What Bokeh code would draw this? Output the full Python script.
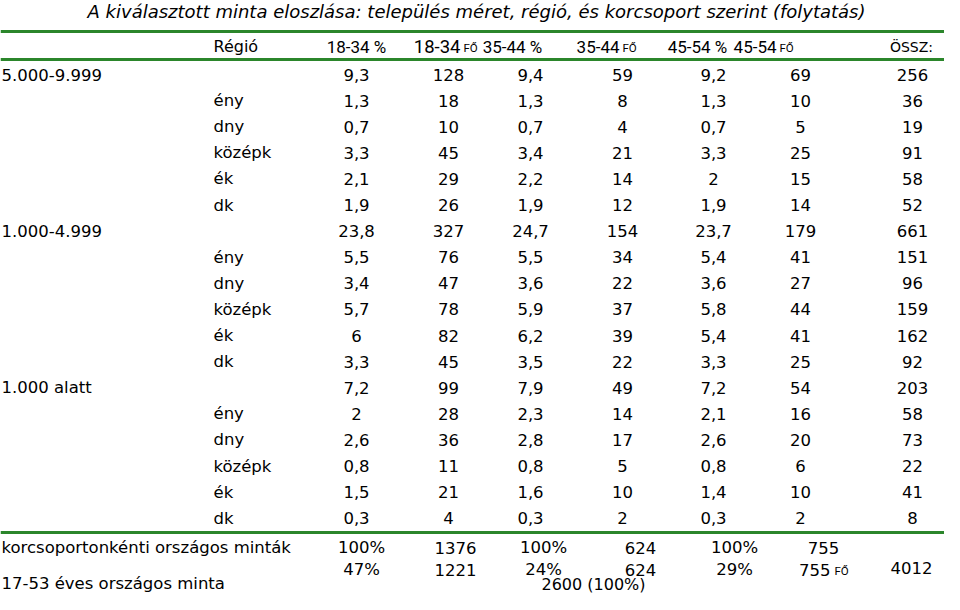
from bokeh.plotting import figure
from bokeh.models import Range1d
from bokeh.embed import file_html
from bokeh.resources import INLINE
from bokeh.core.properties import value

# ---------------- data ----------------
title = "A kiválasztott minta eloszlása: település méret, régió, és korcsoport szerint (folytatás)"
groups = ["5.000-9.999", "1.000-4.999", "1.000 alatt"]
regions = ["ény", "dny", "középk", "ék", "dk"]
region_header = "Régió"
col_headers = ["18-34 %", "18-34", "35-44 %", "35-44", "45-54 %", "45-54", "ÖSSZ:"]
fo_label = "FŐ"

pct_18_34 = [9.3, 1.3, 0.7, 3.3, 2.1, 1.9, 23.8, 5.5, 3.4, 5.7, 6, 3.3, 7.2, 2, 2.6, 0.8, 1.5, 0.3]
n_18_34 = [128, 18, 10, 45, 29, 26, 327, 76, 47, 78, 82, 45, 99, 28, 36, 11, 21, 4]
pct_35_44 = [9.4, 1.3, 0.7, 3.4, 2.2, 1.9, 24.7, 5.5, 3.6, 5.9, 6.2, 3.5, 7.9, 2.3, 2.8, 0.8, 1.6, 0.3]
n_35_44 = [59, 8, 4, 21, 14, 12, 154, 34, 22, 37, 39, 22, 49, 14, 17, 5, 10, 2]
pct_45_54 = [9.2, 1.3, 0.7, 3.3, 2, 1.9, 23.7, 5.4, 3.6, 5.8, 5.4, 3.3, 7.2, 2.1, 2.6, 0.8, 1.4, 0.3]
n_45_54 = [69, 10, 5, 25, 15, 14, 179, 41, 27, 44, 41, 25, 54, 16, 20, 6, 10, 2]
total = [256, 36, 19, 91, 58, 52, 661, 151, 96, 159, 162, 92, 203, 58, 73, 22, 41, 8]

footer1_label = "korcsoportonkénti országos minták"
footer1_pct = [100, 100, 100]
footer1_n = [1376, 624, 755]
footer2_label = "17-53 éves országos minta"
footer2_pct = [47, 24, 29]
footer2_n = [1221, 624, 755]
footer2_total = 4012
base_total_label = "2600 (100%)"

# ---------------- layout ----------------
BODY = value("DejaVu Sans")
HEAD = value("Roboto")
BODY_SIZE = "16.5px"
GREEN = "#2b862b"
col_x = [356, 448, 530, 622, 713, 800, 912]
foot_x = [361, 455, 543, 640, 734, 823, 911]
row_y0, row_dy = 74, 26.1

def fmt(v):
    return f"{v:g}".replace(".", ",")

p = figure(width=944, height=594, x_range=Range1d(0, 944), y_range=Range1d(594, 0),
           output_backend="svg", toolbar_location=None, min_border=0)
p.axis.visible = False
p.xgrid.visible = False
p.ygrid.visible = False
p.outline_line_color = None
p.background_fill_color = "white"

def txt(xs, ys, ts, font=BODY, size=BODY_SIZE, align="center", style="normal", baseline="middle"):
    p.text(x=xs, y=ys, text=ts, text_font=font, text_font_size=size, text_font_style=style,
           text_align=align, text_baseline=baseline, text_color="black")

# title
txt([476], [11], [title], size="18px", style="italic")

# rules
for yy in [31, 59, 532]:
    p.line(x=[0, 944], y=[yy, yy], line_color=GREEN, line_width=3)

# header
hy = 46
txt([213], [hy], [region_header], size="16px", align="left")
txt([356, 512, 697], [hy] * 3, [col_headers[0], col_headers[2], col_headers[4]], font=HEAD, size="17px")
fo_right = [460, 619, 776]
fo_sizes = ["18.5px", "17px", "17px"]
for t, xs, s in zip([col_headers[1], col_headers[3], col_headers[5]], fo_right, fo_sizes):
    txt([xs], [hy], [t], font=HEAD, size=s, align="right")
    txt([xs + 3], [hy + 1], [fo_label], font=HEAD, size="11.5px", align="left")
txt([911], [hy], [col_headers[6]], size="14px")

# body rows
series = [pct_18_34, n_18_34, pct_35_44, n_35_44, pct_45_54, n_45_54, total]
n_rows = len(total)
row_ys = [row_y0 + row_dy * i for i in range(n_rows)]
labels_x, labels_y, labels_t = [], [], []
for g, name in enumerate(groups):
    base = g * (len(regions) + 1)
    labels_x.append(1); labels_y.append(row_ys[base]); labels_t.append(name)
    for r, reg in enumerate(regions):
        labels_x.append(213); labels_y.append(row_ys[base + r + 1]); labels_t.append(reg)
txt(labels_x, labels_y, labels_t, align="left")
for cx, ser in zip(col_x, series):
    txt([cx] * n_rows, row_ys, [fmt(v) for v in ser])

# footer row 1
f1y = 547
txt([1], [f1y], [footer1_label], align="left")
txt([foot_x[0], foot_x[2], foot_x[4]], [f1y] * 3, [f"{v}%" for v in footer1_pct])
txt([foot_x[1], foot_x[3], foot_x[5]], [f1y] * 3, [str(v) for v in footer1_n])

# footer row 2
f2y = 569
txt([1], [583], [footer2_label], align="left")
txt([foot_x[0], foot_x[2], foot_x[4]], [f2y] * 3, [f"{v}%" for v in footer2_pct])
txt([foot_x[1], foot_x[3]], [f2y] * 2, [str(v) for v in footer2_n[:2]])
txt([830], [f2y], [str(footer2_n[2])], align="right")
txt([834], [f2y + 1], [fo_label], font=HEAD, size="11.5px", align="left")
txt([foot_x[6]], [f2y - 2], [str(footer2_total)])
txt([593], [593], [base_total_label], size="16px", baseline="bottom")

open("out.html", "w").write(file_html(p, INLINE))
